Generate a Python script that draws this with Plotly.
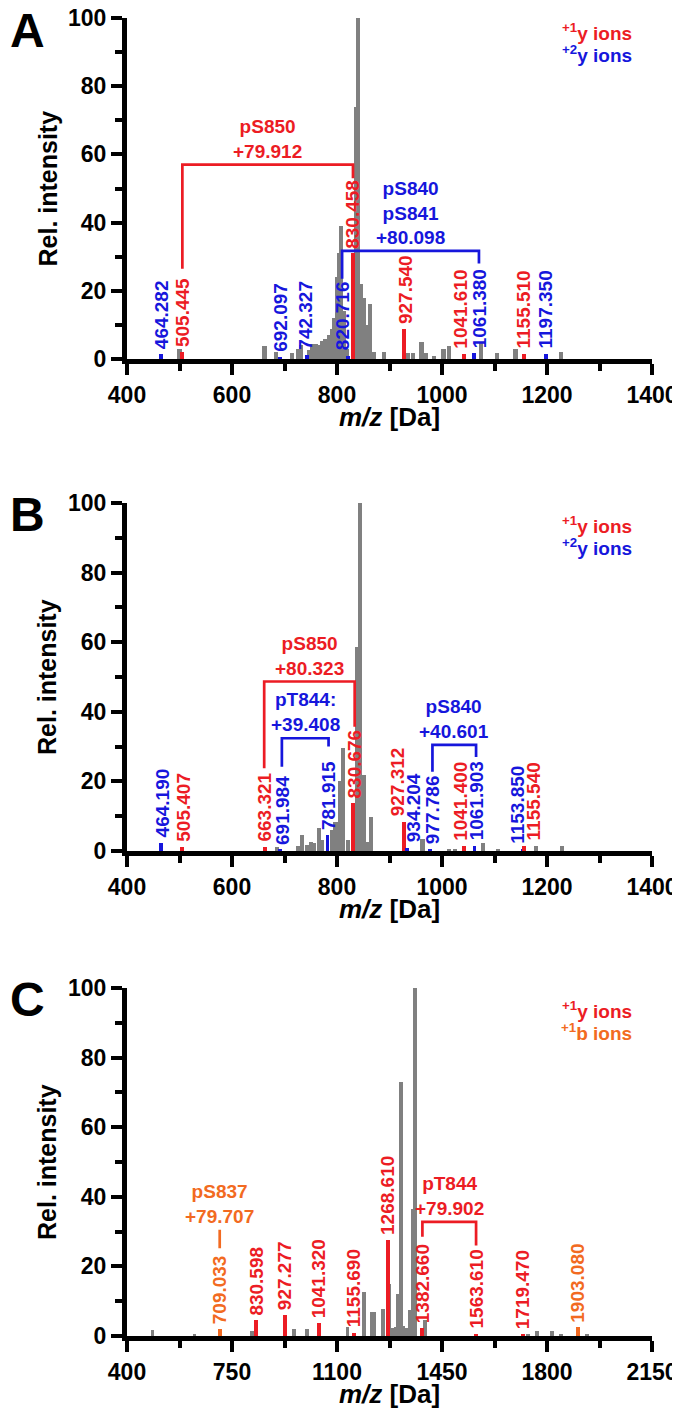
import plotly.graph_objects as go

# page geometry: the browser adds an 8px body margin around the figure
OFF = 8
W, H = 680 - OFF, 1423 - OFF
FONT = "Arial, 'Liberation Sans', Helvetica, sans-serif"
COLORS = {'y1': '#EC1C24', 'y2': '#1616DC', 'b1': '#F26A21'}
GRAY = '#808080'

# ---------------- Panel A ----------------
A_peak_mz = [500, 662, 684, 715, 725, 731, 746, 752, 759, 765, 771, 778, 784, 790, 795,
             800, 804, 808, 813, 818, 836, 840, 845, 851, 857, 863, 870, 889, 935, 944,
             961, 970, 985, 1003, 1013, 1075, 1105, 1140, 1227]
A_peak_int = [2.8, 3.8, 2.1, 1.8, 3.0, 4.0, 2.5, 4.5, 4.5, 4.0, 5.4, 6.0, 7.0, 8.8, 12,
              24, 31, 39, 14, 3, 74, 100, 22, 18, 10, 16, 2, 2, 1.8, 1.8,
              5, 1.8, 0.9, 2.8, 3.7, 5, 1.8, 2.8, 2.1]
A_ion_mz = [464.282, 505.445, 692.097, 742.327, 820.716, 830.458, 927.540, 1041.610,
            1061.380, 1155.510, 1197.350]
A_ion_int = [1.5, 2.0, 0.6, 1.3, 1.0, 31, 8.8, 1.6, 1.8, 1.5, 1.5]
A_ion_type = ['y2', 'y1', 'y2', 'y2', 'y2', 'y1', 'y1', 'y1', 'y2', 'y1', 'y2']
A_br_left = [505.445, 820.716]
A_br_right = [830.458, 1061.380]
A_br_top = [57, 31.7]
A_br_left_end = [26.5, 23.5]
A_br_right_end = [53, 28]
A_br_text = ['pS850<br>+79.912', 'pS840<br>pS841<br>+80.098']
A_br_type = ['y1', 'y2']
A_legend = [('+1', 'y ions', 'y1'), ('+2', 'y ions', 'y2')]
A_xticks = [400, 600, 800, 1000, 1200, 1400]

# ---------------- Panel B ----------------
B_peak_mz = [686, 726, 734, 743, 750, 756, 766, 772, 791, 797, 802, 806, 811, 821,
             839, 844, 852, 858, 865, 963, 1014, 1024, 1078, 1107, 1179, 1228]
B_peak_int = [1.2, 1.4, 4.6, 1.7, 2.7, 2.4, 6.5, 3.2, 6, 8.4, 8.1, 20, 29.5, 3.2,
              58.7, 100, 21.8, 2.7, 9.9, 3.4, 0.6, 0.6, 2.4, 0.6, 1.4, 1.4]
B_ion_mz = [464.190, 505.407, 663.321, 691.984, 781.915, 830.676, 927.312, 934.204,
            977.786, 1041.400, 1061.903, 1153.850, 1155.540]
B_ion_int = [2.4, 1.2, 1.2, 0.4, 4.6, 13.7, 8.4, 1.0, 0.5, 1.5, 1.5, 0.5, 1.5]
B_ion_type = ['y2', 'y1', 'y1', 'y2', 'y2', 'y1', 'y1', 'y2', 'y2', 'y1', 'y2', 'y2', 'y1']
B_br_left = [663.321, 691.984, 977.786]
B_br_right = [830.676, 781.915, 1061.903]
B_br_top = [48.7, 32.4, 30.5]
B_br_left_end = [23.8, 24.2, 22.8]
B_br_right_end = [35.7, 30, 27]
B_br_text = ['pS850<br>+80.323', 'pT844:<br>+39.408', 'pS840<br>+40.601']
B_br_type = ['y1', 'y2', 'y2']
B_legend = [('+1', 'y ions', 'y1'), ('+2', 'y ions', 'y2')]
B_xticks = [400, 600, 800, 1000, 1200, 1400]

# ---------------- Panel C ----------------
C_peak_mz = [485, 625, 816, 958, 1001, 1135, 1191, 1216, 1224, 1252, 1274, 1286, 1297,
             1303, 1312, 1321, 1332, 1343, 1352, 1360, 1393, 1736, 1766, 1818, 1847, 1933]
C_peak_int = [1.8, 0.7, 1.5, 2, 2, 2.5, 12.7, 6.9, 6.9, 7.8, 15, 2.2, 2.7,
              12, 73, 3, 2.2, 7.4, 36.6, 100, 4.6, 0.7, 1.5, 1.5, 0.7, 0.7]
C_ion_mz = [709.033, 830.598, 927.277, 1041.320, 1155.690, 1268.610, 1382.660,
            1563.610, 1719.470, 1903.080]
C_ion_int = [2, 4.5, 5.9, 3.6, 1, 27.5, 2.2, 0.6, 0.6, 2.5]
C_ion_type = ['b1', 'y1', 'y1', 'y1', 'y1', 'y1', 'y1', 'y1', 'y1', 'b1']
C_br_left = [709.033, 1382.660]
C_br_right = [709.033, 1563.610]
C_br_top = [30.5, 32.8]
C_br_left_end = [25.2, 28.5]
C_br_right_end = [25.2, 26]
C_br_text = ['pS837<br>+79.707', 'pT844<br>+79.902']
C_br_type = ['b1', 'y1']
C_legend = [('+1', 'y ions', 'y1'), ('+1', 'b ions', 'b1')]
C_xticks = [400, 750, 1100, 1450, 1800, 2150]

y_ticks = [0, 20, 40, 60, 80, 100]

# ---------------- layout / style (page pixel coordinates) ----------------
X0, X1 = 127, 652
ROWS = [(18, 359), (503, 851), (988, 1336)]
LETTER_Y = [31, 514, 999]
LABEL_OFFSETS = [
    [2, 0, 0, -4, -11, 0, 3, -8, 9, 0, 0],
    [3, 2, -2, 3, 2, 3, -13, 11, 4, -6, 3, -10, 19],
    [0, 2, 0, 0, 0, 2, 2, 0, 0, 0],
]
PANELS = [
    dict(letter='A', peaks=(A_peak_mz, A_peak_int), ions=(A_ion_mz, A_ion_int, A_ion_type),
         br=(A_br_left, A_br_right, A_br_top, A_br_left_end, A_br_right_end, A_br_text, A_br_type),
         legend=A_legend, xticks=A_xticks, minor=100, pw=8, iw=7.5),
    dict(letter='B', peaks=(B_peak_mz, B_peak_int), ions=(B_ion_mz, B_ion_int, B_ion_type),
         br=(B_br_left, B_br_right, B_br_top, B_br_left_end, B_br_right_end, B_br_text, B_br_type),
         legend=B_legend, xticks=B_xticks, minor=100, pw=8, iw=7.5),
    dict(letter='C', peaks=(C_peak_mz, C_peak_int), ions=(C_ion_mz, C_ion_int, C_ion_type),
         br=(C_br_left, C_br_right, C_br_top, C_br_left_end, C_br_right_end, C_br_text, C_br_type),
         legend=C_legend, xticks=C_xticks, minor=175, pw=13, iw=13),
]


def px(x):
    return (x - OFF) / W


def py(y):
    return 1 - (y - OFF) / H


def f(size, color='black'):
    return dict(family=FONT, size=size, color=color, weight='bold')


fig = go.Figure()
annotations = []
layout = {}

for i, P in enumerate(PANELS):
    n = '' if i == 0 else str(i + 1)
    xr, yr = 'x' + n, 'y' + n
    top, bot = ROWS[i]
    xt = P['xticks']
    offs = LABEL_OFFSETS[i]

    # gray spectrum peaks
    fig.add_trace(go.Bar(x=P['peaks'][0], y=P['peaks'][1], width=P['pw'],
                         marker=dict(color=GRAY, line=dict(width=0)),
                         xaxis=xr, yaxis=yr, showlegend=False, hoverinfo='skip'))
    # annotated ions
    mzs, ints, types = P['ions']
    fig.add_trace(go.Bar(x=mzs, y=ints, width=P['iw'],
                         marker=dict(color=[COLORS[t] for t in types], line=dict(width=0)),
                         xaxis=xr, yaxis=yr, showlegend=False, hoverinfo='skip'))
    off_of = {}
    for mz, h, t, o in zip(mzs, ints, types, offs):
        off_of[mz] = o
        annotations.append(dict(x=mz + o, y=h, xref=xr, yref=yr, text=f"{mz:.3f}",
                                textangle=-90, showarrow=False, xanchor='center',
                                yanchor='bottom', yshift=3, font=f(19, COLORS[t])))
    # brackets
    for l, r, tp, le, re_, txt, t in zip(*P['br']):
        xl = l + off_of.get(l, 0)
        xrr = r + off_of.get(r, 0)
        fig.add_trace(go.Scatter(x=[xl, xl, xrr, xrr], y=[le, tp, tp, re_], mode='lines',
                                 line=dict(color=COLORS[t], width=2.7),
                                 xaxis=xr, yaxis=yr, showlegend=False, hoverinfo='skip',
                                 cliponaxis=False))
        annotations.append(dict(x=(xl + xrr) / 2, y=tp, xref=xr, yref=yr, text=txt,
                                showarrow=False, xanchor='center', yanchor='bottom',
                                yshift=1, align='center', font=f(19, COLORS[t])))

    # legend text
    lg_top = 10 if i == 0 else top
    for k, (sup, lab, t) in enumerate(P['legend']):
        annotations.append(dict(x=px(634), y=py(lg_top + 22 + 22 * k), xref='paper',
                                yref='paper', text=f"<sup>{sup}</sup>{lab}", showarrow=False,
                                xanchor='right', yanchor='middle', font=f(19, COLORS[t])))
    # panel letter
    annotations.append(dict(x=px(OFF), y=py(LETTER_Y[i]), xref='paper', yref='paper',
                            text=P['letter'], showarrow=False, xanchor='left',
                            yanchor='middle', font=f(48)))
    # axis titles
    annotations.append(dict(x=px(47), y=py((top + bot) / 2), xref='paper', yref='paper',
                            text='Rel. intensity', textangle=-90, showarrow=False,
                            xanchor='center', yanchor='middle', font=f(25)))
    annotations.append(dict(x=px((X0 + X1) / 2), y=py(bot + 58), xref='paper', yref='paper',
                            text='<i>m/z</i> [Da]', showarrow=False,
                            xanchor='center', yanchor='middle', font=f(26)))

    axis_common = dict(showline=True, linewidth=5, linecolor='black', ticks='outside',
                       ticklen=11, tickwidth=4, tickcolor='black', showgrid=False,
                       zeroline=False, fixedrange=True, tickfont=f(23), automargin=False,
                       ticklabeloverflow='allow')
    layout['xaxis' + n] = dict(axis_common, range=[xt[0], xt[-1]], domain=[px(X0), px(X1)],
                               anchor=yr, tickvals=xt,
                               minor=dict(dtick=P['minor'], tick0=xt[0], ticks='outside',
                                          ticklen=7, tickwidth=4, tickcolor='black'))
    layout['yaxis' + n] = dict(axis_common, range=[0, 100], domain=[py(bot), py(top)],
                               anchor=xr, tickvals=y_ticks,
                               minor=dict(dtick=10, tick0=0, ticks='outside',
                                          ticklen=7, tickwidth=4, tickcolor='black'))

fig.update_layout(template='none', width=W, height=H, margin=dict(l=0, r=0, t=0, b=0),
                  paper_bgcolor='white', plot_bgcolor='white', barmode='overlay',
                  bargap=0, annotations=annotations, **layout)

fig.write_html("out.html")
